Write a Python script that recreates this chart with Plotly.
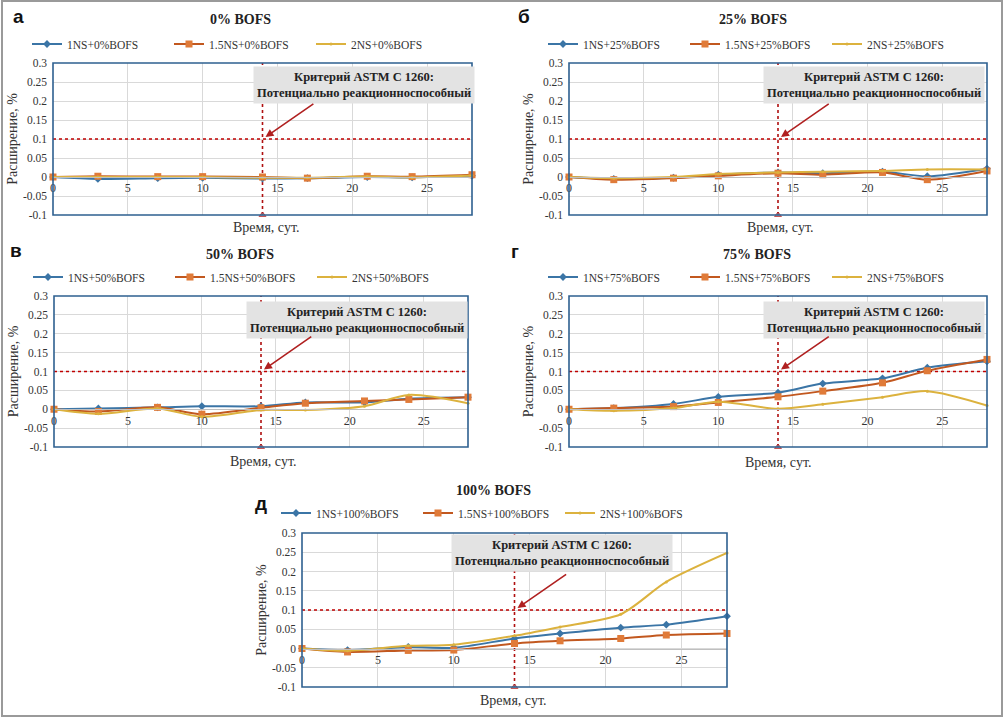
import plotly.graph_objects as go

# ---------------- data ----------------
days = [0, 3, 7, 10, 14, 17, 21, 24, 28]

# 0% BOFS
ns1_0 = [0, -0.005, -0.003, -0.002, -0.004, -0.003, 0.000, -0.001, 0.003]
ns15_0 = [0, 0.002, 0.001, 0.001, 0.000, -0.003, 0.002, 0.001, 0.006]
ns2_0 = [0, 0.000, 0.000, 0.000, -0.002, -0.002, 0.001, -0.001, 0.004]
# 25% BOFS
ns1_25 = [0, -0.005, -0.002, 0.006, 0.012, 0.010, 0.014, 0.002, 0.022]
ns15_25 = [0, -0.007, -0.003, 0.003, 0.010, 0.006, 0.012, -0.007, 0.016]
ns2_25 = [0, -0.003, 0.000, 0.008, 0.012, 0.014, 0.016, 0.020, 0.020]
# 50% BOFS
ns1_50 = [0, 0.002, 0.005, 0.008, 0.008, 0.018, 0.018, 0.028, 0.032]
ns15_50 = [0, -0.006, 0.005, -0.013, 0.004, 0.016, 0.022, 0.026, 0.032]
ns2_50 = [0, -0.012, 0.002, -0.020, -0.002, -0.002, 0.008, 0.038, 0.016]
# 75% BOFS
ns1_75 = [0, 0.003, 0.014, 0.033, 0.044, 0.068, 0.082, 0.110, 0.127]
ns15_75 = [0, 0.003, 0.007, 0.018, 0.033, 0.048, 0.070, 0.102, 0.132]
ns2_75 = [0, -0.004, 0.003, 0.020, 0.001, 0.013, 0.032, 0.048, 0.010]
# 100% BOFS
ns1_100 = [0, -0.004, 0.004, 0.002, 0.026, 0.039, 0.054, 0.062, 0.084]
ns15_100 = [0, -0.009, -0.005, -0.004, 0.013, 0.020, 0.026, 0.035, 0.039]
ns2_100 = [0, -0.006, 0.007, 0.010, 0.033, 0.056, 0.089, 0.173, 0.248]

panel_letters = ["а", "б", "в", "г", "д"]
panel_titles = ["0% BOFS", "25% BOFS", "50% BOFS", "75% BOFS", "100% BOFS"]
bofs_tags = ["0%", "25%", "50%", "75%", "100%"]
ns_names = ["1NS", "1.5NS", "2NS"]
series = [
    [ns1_0, ns15_0, ns2_0],
    [ns1_25, ns15_25, ns2_25],
    [ns1_50, ns15_50, ns2_50],
    [ns1_75, ns15_75, ns2_75],
    [ns1_100, ns15_100, ns2_100],
]

threshold = 0.1
criterion_day = 14
x_range = [0, 28]
y_range = [-0.1, 0.3]
xtick_vals = [0, 5, 10, 15, 20, 25]
ytick_vals = [-0.1, -0.05, 0, 0.05, 0.1, 0.15, 0.2, 0.25, 0.3]
ytick_text = ["-0.1", "-0.05", "0", "0.05", "0.1", "0.15", "0.2", "0.25", "0.3"]
criterion_text = "<b>Критерий ASTM C 1260:</b><br><b>Потенциально реакционноспособный</b>"
x_title = "Время, сут."
y_title = "Расширение, %"

# ---------------- layout geometry (pixels) ----------------
W, H = 1004, 718
# plot boxes: left, right, top, bottom
boxes = [
    (53, 472, 63, 215),
    (569, 987, 63, 215),
    (54, 468, 296, 447),
    (569, 987, 296, 447),
    (302, 727, 533, 687),
]
title_pos = [(240, 19), (753, 19), (240, 255), (757, 255), (493, 490)]
letter_pos = [(18, 17), (524, 17), (16, 250), (515, 251), (261, 503)]
xlabel_pos = [(266, 228), (780, 228), (263, 461), (778, 462), (513, 700)]
legend_y = [44, 44, 277, 277, 513]
box_center = [(20.8, 0.241), (20.4, 0.243), (20.5, 0.236), (20.4, 0.236), (17.1, 0.248)]

FONT = "Liberation Serif"
SANS = "Liberation Sans"
colors = ["#3b75a6", "#c2581f", "#dcb23e"]
mcolors = ["#3b75a6", "#e07b39", "#dcb23e"]
symbols = ["diamond", "square", "circle"]
msizes = [6, 7, 3]


def fx(px):
    return px / W


def fy(py):
    return 1 - py / H


fig = go.Figure()
layout = dict(
    width=W, height=H,
    margin=dict(l=0, r=0, t=0, b=0, autoexpand=False),
    paper_bgcolor="white", plot_bgcolor="white",
    font=dict(family=FONT, color="#222222"),
    showlegend=True,
)
annotations = []
shapes = []

for i in range(5):
    n = i + 1
    xa = "x" if n == 1 else f"x{n}"
    ya = "y" if n == 1 else f"y{n}"
    xk = "xaxis" if n == 1 else f"xaxis{n}"
    yk = "yaxis" if n == 1 else f"yaxis{n}"
    lg = "legend" if n == 1 else f"legend{n}"
    l, r, t, b = boxes[i]
    yd = [fy(b), fy(t)]
    xd = [fx(l), fx(r)]
    zero_frac = (0 - y_range[0]) / (y_range[1] - y_range[0])

    # threshold line and criterion day line
    fig.add_trace(go.Scatter(
        x=[x_range[0], x_range[1]], y=[threshold, threshold], mode="lines",
        line=dict(color="#c00000", width=1.6, dash="dot"),
        xaxis=xa, yaxis=ya, showlegend=False, hoverinfo="skip"))
    fig.add_trace(go.Scatter(
        x=[criterion_day, criterion_day], y=[y_range[0], y_range[1]],
        mode="lines+markers",
        line=dict(color="#b01010", width=1.6, dash="dot"),
        marker=dict(size=[6, 0], color="#7f8fa6", symbol="triangle-up"),
        xaxis=xa, yaxis=ya, showlegend=False, hoverinfo="skip",
        cliponaxis=False))

    for k in range(3):
        fig.add_trace(go.Scatter(
            x=days, y=series[i][k], mode="lines+markers",
            name=f"{ns_names[k]}+{bofs_tags[i]}BOFS",
            line=dict(color=colors[k], width=2, shape="spline", smoothing=0.8),
            marker=dict(symbol=symbols[k], size=msizes[k], color=mcolors[k]),
            xaxis=xa, yaxis=ya, legend=lg, cliponaxis=False))

    layout[xk] = dict(
        domain=xd, range=x_range, anchor="free",
        position=yd[0] + zero_frac * (yd[1] - yd[0]),
        showline=True, linecolor="#bfbfbf", linewidth=1, automargin=False,
        showgrid=True, gridcolor="#d9d9d9", gridwidth=1, zeroline=False,
        tickmode="array", tickvals=xtick_vals, ticks="",
        tickfont=dict(family=FONT, size=12, color="#333333"),
    )
    layout[yk] = dict(
        domain=yd, range=y_range, anchor=xa, automargin=False,
        showline=False, showgrid=True, gridcolor="#d9d9d9", gridwidth=1,
        zeroline=False, tickmode="array", tickvals=ytick_vals, ticktext=ytick_text,
        ticks="", ticklabelstandoff=5,
        tickfont=dict(family=FONT, size=11.5, color="#333333"),
        title=dict(text=y_title, font=dict(family=FONT, size=14, color="#333333"),
                   standoff=2),
    )
    layout[lg] = dict(
        orientation="h", x=fx(l - 26), y=fy(legend_y[i]),
        xanchor="left", yanchor="middle",
        font=dict(family=FONT, size=11.5, color="#333333"),
        bgcolor="rgba(0,0,0,0)", entrywidth=97, entrywidthmode="pixels",
        itemwidth=30, tracegroupgap=0,
    )
    # plot border
    shapes.append(dict(type="rect", xref=f"{xa} domain", yref=f"{ya} domain",
                       x0=0, x1=1, y0=0, y1=1,
                       line=dict(color="#2e6090", width=1.6), layer="above"))
    # criterion box
    bx, by = box_center[i]
    annotations.append(dict(
        x=bx, y=by, xref=xa, yref=ya, text=criterion_text, showarrow=False,
        xanchor="center", yanchor="middle",
        font=dict(family=FONT, size=12.5, color="#222222"),
        bgcolor="#e3e3e3", borderpad=3, align="center"))
    # arrow
    annotations.append(dict(
        x=14.2, y=0.105, ax=17.5, ay=0.195, xref=xa, yref=ya, axref=xa, ayref=ya,
        text="", showarrow=True, arrowhead=2, arrowsize=1, arrowwidth=1.6,
        arrowcolor="#b02020"))
    # panel title
    tx, ty = title_pos[i]
    annotations.append(dict(
        x=fx(tx), y=fy(ty), xref="paper", yref="paper", showarrow=False,
        xanchor="center", yanchor="middle",
        text=f"<b>{panel_titles[i]}</b>", font=dict(family=FONT, size=14, color="#222222")))
    # panel letter
    lx, ly = letter_pos[i]
    annotations.append(dict(
        x=fx(lx), y=fy(ly), xref="paper", yref="paper", showarrow=False,
        xanchor="center", yanchor="middle",
        text=f"<b>{panel_letters[i]}</b>", font=dict(family=SANS, size=19, color="#111111")))
    # x title
    xx, xy = xlabel_pos[i]
    annotations.append(dict(
        x=fx(xx), y=fy(xy), xref="paper", yref="paper", showarrow=False,
        xanchor="center", yanchor="middle",
        text=x_title, font=dict(family=FONT, size=14, color="#333333")))

# outer frame
shapes.append(dict(type="rect", xref="paper", yref="paper",
                   x0=fx(2), x1=fx(1002), y0=fy(716), y1=fy(1),
                   line=dict(color="#9a9a9a", width=2)))

layout["annotations"] = annotations
layout["shapes"] = shapes
fig.update_layout(**layout)
fig.write_html(
    "out.html",
    config={"displayModeBar": False},
    post_script="document.body.style.margin='0';document.body.style.overflow='hidden';",
)
